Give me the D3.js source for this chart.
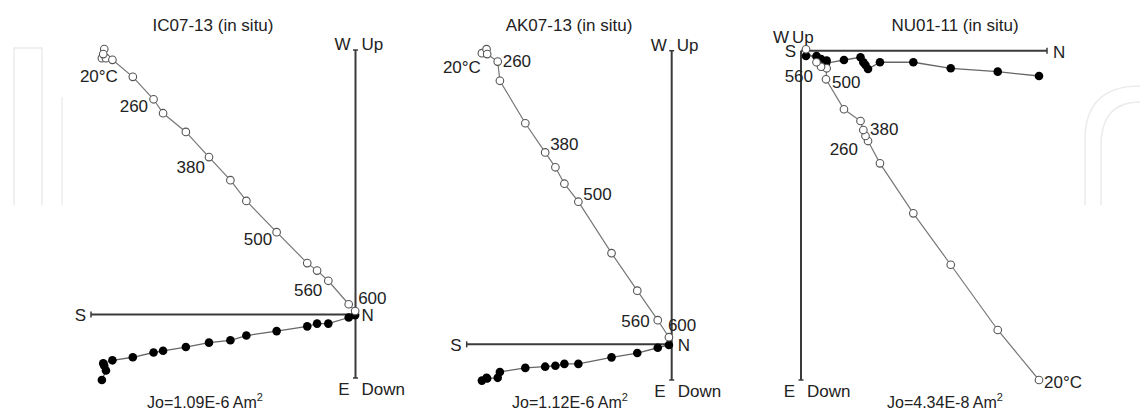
<!DOCTYPE html>
<html>
<head>
<meta charset="utf-8">
<script src="https://cdn.jsdelivr.net/npm/d3@7"></script>
<style>
  body { margin: 0; background: #fff; }
  svg { display: block; font-family: 'Liberation Sans', Arial, sans-serif; }
</style>
</head>
<body>
<div id="chart"></div>
<script>
// sample names and initial intensities
const titles = ['IC07-13 (in situ)', 'AK07-13 (in situ)', 'NU01-11 (in situ)']
const moments = ['Jo=1.09E-6 Am', 'Jo=1.12E-6 Am', 'Jo=4.34E-8 Am']

// IC07-13, components in 1E-7 Am2
const tempsIC = [20, 100, 150, 200, 220, 240, 260, 300, 340, 380, 420, 460, 500, 520, 540, 560, 580, 600]
const northIC = [-7.46, -7.34, -7.39, -7.42, -7.15, -6.55, -5.94, -5.66, -4.99, -4.31, -3.68, -3.21, -2.32, -1.42, -1.13, -0.80, -0.20, -0.01]
const eastIC = [1.93, 1.65, 1.51, 1.44, 1.35, 1.26, 1.12, 1.07, 0.96, 0.83, 0.76, 0.62, 0.49, 0.35, 0.27, 0.27, 0.09, 0.02]
const upIC = [7.54, 7.54, 7.81, 7.66, 7.49, 6.99, 6.33, 5.92, 5.37, 4.63, 3.95, 3.34, 2.42, 1.51, 1.29, 0.99, 0.30, 0.10]

// AK07-13, components in 1E-7 Am2
const tempsAK = [20, 100, 200, 260, 300, 340, 380, 420, 460, 500, 520, 540, 560, 600]
const northAK = [-6.12, -5.97, -5.95, -5.61, -5.54, -4.72, -4.08, -3.75, -3.46, -3.01, -1.94, -1.11, -0.45, -0.09]
const eastAK = [1.17, 1.08, 1.10, 1.08, 0.89, 0.76, 0.72, 0.69, 0.63, 0.63, 0.42, 0.28, 0.11, 0.02]
const upAK = [9.39, 9.52, 9.36, 9.12, 8.50, 7.13, 6.19, 5.71, 5.18, 4.60, 2.94, 1.73, 0.78, 0.23]

// NU01-11, components in 1E-9 Am2
const tempsNU = [20, 100, 150, 200, 230, 260, 300, 340, 380, 440, 500, 520, 540, 560, 600]
const northNU = [25.32, 20.93, 15.93, 11.95, 8.40, 7.13, 6.86, 6.63, 6.33, 4.57, 2.66, 2.73, 2.13, 1.65, 0.53]
const eastNU = [2.69, 2.23, 1.87, 1.23, 1.23, 1.95, 1.52, 1.23, 0.70, 0.99, 1.34, 1.06, 0.88, 0.56, 0.56]
const upNU = [-35.03, -29.71, -22.77, -17.30, -11.98, -9.61, -9.07, -8.44, -7.48, -6.23, -3.04, -1.87, -1.70, -1.23, 0.15]

// axis extents in the same units (north, vertical)
const extentIC = [[-7.78, 0], [7.78, -1.87]]
const extentAK = [[-6.61, 0], [9.47, -1.15]]
const extentNU = [[0, 26.17], [0, -35.03]]

// which steps get a temperature label
const labelledIC = [20, 260, 380, 500, 560, 600]
const labelledAK = [20, 260, 380, 500, 560, 600]
const labelledNU = [20, 260, 380, 500, 560]

const width = 1140
const height = 412

const svg = d3.select('#chart')
  .append('svg')
  .attr('width', width)
  .attr('height', height)

// faint publisher watermark in the background
const wm = svg.append('g')
  .attr('fill', 'none')
  .attr('stroke', '#ececec')
  .attr('stroke-width', 1.5)
wm.append('path').attr('d', 'M14,205 V48 H42 V205')
wm.append('path').attr('d', 'M62,205 V97')
wm.append('path').attr('d', 'M1085,205 V140 Q1085,86 1140,86')
wm.append('path').attr('d', 'M1101,205 V146 Q1101,102 1140,102')

const panels = [
  {
    title: titles[0], moment: moments[0], temps: tempsIC, north: northIC, east: eastIC, up: upIC,
    extent: extentIC, labelled: labelledIC,
    xRange: [91, 355.5], yRange: [50, 378], titleX: 213, momentX: 205,
    top: { w: [-5, 0], up: [6, 0] },
    place: {
      20: [-22, 24, 'start'], 260: [-5.5, 13, 'end'], 380: [-4, 16, 'end'],
      500: [-4.5, 13, 'end'], 560: [-6, 15, 'end'], 600: [3, -7, 'start']
    }
  },
  {
    title: titles[1], moment: moments[1], temps: tempsAK, north: northAK, east: eastAK, up: upAK,
    extent: extentAK, labelled: labelledAK,
    xRange: [466.7, 671.7], yRange: [50.7, 380], titleX: 569, momentX: 570,
    top: { w: [-5, 0], up: [5, 0] },
    place: {
      20: [-1, 20, 'end'], 260: [5, 5, 'start'], 380: [5, -2, 'start'],
      500: [5, -2, 'start'], 560: [-8, 7, 'end'], 600: [-1, -6, 'start']
    }
  },
  {
    title: titles[2], moment: moments[2], temps: tempsNU, north: northNU, east: eastNU, up: upNU,
    extent: extentNU, labelled: labelledNU,
    xRange: [801, 1047], yRange: [50.7, 380], titleX: 955, momentX: 945,
    top: { w: [-12, -8], up: [-9, -8] },
    place: {
      20: [5, 8, 'start'], 260: [-10, 14, 'end'], 380: [9.5, 14, 'start'],
      500: [6, 9, 'start'], 560: [-3.5, 20, 'end']
    }
  }
]

panels.forEach(function (p) {
  const x = d3.scaleLinear().domain(p.extent[0]).range(p.xRange)
  const y = d3.scaleLinear().domain(p.extent[1]).range(p.yRange)

  const steps = p.temps.map(function (t, i) {
    return { t: t, n: p.north[i], e: p.east[i], u: p.up[i] }
  })

  const g = svg.append('g')

  // title
  g.append('text')
    .attr('x', p.titleX)
    .attr('y', 31)
    .attr('text-anchor', 'middle')
    .attr('font-size', 17)
    .attr('fill', '#222')
    .text(p.title)

  // axes through the origin
  const ox = x(0)
  const oy = y(0)
  const axes = g.append('g')
    .attr('stroke', '#3a3a3a')
    .attr('stroke-width', 2)
  axes.append('line')
    .attr('x1', ox).attr('x2', ox)
    .attr('y1', p.yRange[0]).attr('y2', p.yRange[1])
  axes.append('line')
    .attr('x1', p.xRange[0]).attr('x2', p.xRange[1])
    .attr('y1', oy).attr('y2', oy)

  // small end caps
  const caps = []
  if (p.yRange[0] < oy) caps.push([ox - 2.5, p.yRange[0], ox + 2.5, p.yRange[0]])
  caps.push([ox - 2.5, p.yRange[1], ox + 2.5, p.yRange[1]])
  if (p.xRange[0] < ox) caps.push([p.xRange[0], oy - 3, p.xRange[0], oy + 3])
  if (p.xRange[1] > ox) caps.push([p.xRange[1], oy - 3, p.xRange[1], oy + 3])
  axes.selectAll('.cap')
    .data(caps)
    .enter().append('line')
    .attr('class', 'cap')
    .attr('stroke-width', 1.5)
    .attr('x1', function (d) { return d[0] })
    .attr('y1', function (d) { return d[1] })
    .attr('x2', function (d) { return d[2] })
    .attr('y2', function (d) { return d[3] })

  // axis direction labels
  const lab = g.append('g').attr('font-size', 17).attr('fill', '#222')
  lab.append('text').attr('x', ox + p.top.w[0]).attr('y', p.yRange[0] + p.top.w[1])
    .attr('text-anchor', 'end').text('W')
  lab.append('text').attr('x', ox + p.top.up[0]).attr('y', p.yRange[0] + p.top.up[1])
    .attr('text-anchor', 'start').text('Up')
  lab.append('text').attr('x', ox - 6).attr('y', p.yRange[1] + 17)
    .attr('text-anchor', 'end').text('E')
  lab.append('text').attr('x', ox + 6).attr('y', p.yRange[1] + 17)
    .attr('text-anchor', 'start').text('Down')
  lab.append('text').attr('x', p.xRange[0] - 5).attr('y', oy + 6.5)
    .attr('text-anchor', 'end').text('S')
  lab.append('text').attr('x', p.xRange[1] + 6).attr('y', oy + 7)
    .attr('text-anchor', 'start').text('N')

  // vertical projection (open) and horizontal projection (solid)
  const lineV = d3.line()
    .x(function (d) { return x(d.n) })
    .y(function (d) { return y(d.u) })
  const lineH = d3.line()
    .x(function (d) { return x(d.n) })
    .y(function (d) { return y(-d.e) })

  g.append('path')
    .datum(steps)
    .attr('fill', 'none')
    .attr('stroke', '#777')
    .attr('stroke-width', 1.2)
    .attr('d', lineV)
  g.append('path')
    .datum(steps)
    .attr('fill', 'none')
    .attr('stroke', '#666')
    .attr('stroke-width', 1.3)
    .attr('d', lineH)

  g.selectAll('.hz')
    .data(steps)
    .enter().append('circle')
    .attr('class', 'hz')
    .attr('cx', function (d) { return x(d.n) })
    .attr('cy', function (d) { return y(-d.e) })
    .attr('r', 4.3)
    .attr('fill', '#000')

  g.selectAll('.vt')
    .data(steps)
    .enter().append('circle')
    .attr('class', 'vt')
    .attr('cx', function (d) { return x(d.n) })
    .attr('cy', function (d) { return y(d.u) })
    .attr('r', 3.8)
    .attr('fill', '#fff')
    .attr('stroke', '#555')
    .attr('stroke-width', 1.1)

  // temperature labels
  g.selectAll('.temp')
    .data(steps.filter(function (d) { return p.labelled.indexOf(d.t) >= 0 }))
    .enter().append('text')
    .attr('class', 'temp')
    .attr('font-size', 17)
    .attr('fill', '#222')
    .attr('x', function (d) { return x(d.n) + p.place[d.t][0] })
    .attr('y', function (d) { return y(d.u) + p.place[d.t][1] })
    .attr('text-anchor', function (d) { return p.place[d.t][2] })
    .text(function (d) { return d.t === 20 ? '20°C' : String(d.t) })

  // initial intensity
  const jo = g.append('text')
    .attr('x', p.momentX)
    .attr('y', 408)
    .attr('text-anchor', 'middle')
    .attr('font-size', 16)
    .attr('fill', '#222')
  jo.append('tspan').text(p.moment)
  jo.append('tspan').attr('font-size', 11).attr('dy', -7).text('2')
})
</script>
</body>
</html>
